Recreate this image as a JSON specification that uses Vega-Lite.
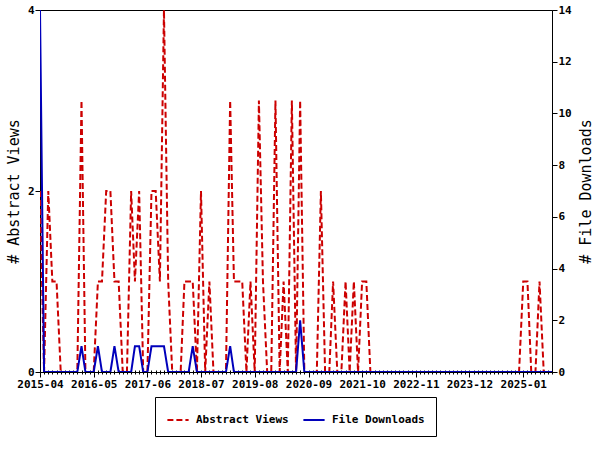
{
  "$schema": "https://vega.github.io/schema/vega-lite/v6.json",
  "width": 512,
  "height": 362,
  "autosize": {"type": "none"},
  "padding": {"left": 40, "top": 10, "right": 48, "bottom": 78},
  "background": "white",
  "data": {"values": [
    {"month": "2015-04", "views": 2, "downloads": 14},
    {"month": "2015-05", "views": 0, "downloads": 0},
    {"month": "2015-06", "views": 2, "downloads": 0},
    {"month": "2015-07", "views": 1, "downloads": 0},
    {"month": "2015-08", "views": 1, "downloads": 0},
    {"month": "2015-09", "views": 0, "downloads": 0},
    {"month": "2015-10", "views": 0, "downloads": 0},
    {"month": "2015-11", "views": 0, "downloads": 0},
    {"month": "2015-12", "views": 0, "downloads": 0},
    {"month": "2016-01", "views": 0, "downloads": 0},
    {"month": "2016-02", "views": 3, "downloads": 1},
    {"month": "2016-03", "views": 0, "downloads": 0},
    {"month": "2016-04", "views": 0, "downloads": 0},
    {"month": "2016-05", "views": 0, "downloads": 0},
    {"month": "2016-06", "views": 1, "downloads": 1},
    {"month": "2016-07", "views": 1, "downloads": 0},
    {"month": "2016-08", "views": 2, "downloads": 0},
    {"month": "2016-09", "views": 2, "downloads": 0},
    {"month": "2016-10", "views": 1, "downloads": 1},
    {"month": "2016-11", "views": 1, "downloads": 0},
    {"month": "2016-12", "views": 0, "downloads": 0},
    {"month": "2017-01", "views": 0, "downloads": 0},
    {"month": "2017-02", "views": 2, "downloads": 0},
    {"month": "2017-03", "views": 1, "downloads": 1},
    {"month": "2017-04", "views": 2, "downloads": 1},
    {"month": "2017-05", "views": 0, "downloads": 0},
    {"month": "2017-06", "views": 0, "downloads": 0},
    {"month": "2017-07", "views": 2, "downloads": 1},
    {"month": "2017-08", "views": 2, "downloads": 1},
    {"month": "2017-09", "views": 1, "downloads": 1},
    {"month": "2017-10", "views": 4, "downloads": 1},
    {"month": "2017-11", "views": 1, "downloads": 0},
    {"month": "2017-12", "views": 0, "downloads": 0},
    {"month": "2018-01", "views": 0, "downloads": 0},
    {"month": "2018-02", "views": 0, "downloads": 0},
    {"month": "2018-03", "views": 1, "downloads": 0},
    {"month": "2018-04", "views": 1, "downloads": 0},
    {"month": "2018-05", "views": 1, "downloads": 1},
    {"month": "2018-06", "views": 0, "downloads": 0},
    {"month": "2018-07", "views": 2, "downloads": 0},
    {"month": "2018-08", "views": 0, "downloads": 0},
    {"month": "2018-09", "views": 1, "downloads": 0},
    {"month": "2018-10", "views": 0, "downloads": 0},
    {"month": "2018-11", "views": 0, "downloads": 0},
    {"month": "2018-12", "views": 0, "downloads": 0},
    {"month": "2019-01", "views": 0, "downloads": 0},
    {"month": "2019-02", "views": 3, "downloads": 1},
    {"month": "2019-03", "views": 1, "downloads": 0},
    {"month": "2019-04", "views": 1, "downloads": 0},
    {"month": "2019-05", "views": 1, "downloads": 0},
    {"month": "2019-06", "views": 0, "downloads": 0},
    {"month": "2019-07", "views": 1, "downloads": 0},
    {"month": "2019-08", "views": 0, "downloads": 0},
    {"month": "2019-09", "views": 3, "downloads": 0},
    {"month": "2019-10", "views": 1, "downloads": 0},
    {"month": "2019-11", "views": 0, "downloads": 0},
    {"month": "2019-12", "views": 0, "downloads": 0},
    {"month": "2020-01", "views": 3, "downloads": 0},
    {"month": "2020-02", "views": 0, "downloads": 0},
    {"month": "2020-03", "views": 1, "downloads": 0},
    {"month": "2020-04", "views": 0, "downloads": 0},
    {"month": "2020-05", "views": 3, "downloads": 0},
    {"month": "2020-06", "views": 0, "downloads": 0},
    {"month": "2020-07", "views": 3, "downloads": 2},
    {"month": "2020-08", "views": 0, "downloads": 0},
    {"month": "2020-09", "views": 0, "downloads": 0},
    {"month": "2020-10", "views": 0, "downloads": 0},
    {"month": "2020-11", "views": 0, "downloads": 0},
    {"month": "2020-12", "views": 2, "downloads": 0},
    {"month": "2021-01", "views": 0, "downloads": 0},
    {"month": "2021-02", "views": 0, "downloads": 0},
    {"month": "2021-03", "views": 1, "downloads": 0},
    {"month": "2021-04", "views": 0, "downloads": 0},
    {"month": "2021-05", "views": 0, "downloads": 0},
    {"month": "2021-06", "views": 1, "downloads": 0},
    {"month": "2021-07", "views": 0, "downloads": 0},
    {"month": "2021-08", "views": 1, "downloads": 0},
    {"month": "2021-09", "views": 0, "downloads": 0},
    {"month": "2021-10", "views": 1, "downloads": 0},
    {"month": "2021-11", "views": 1, "downloads": 0},
    {"month": "2021-12", "views": 0, "downloads": 0},
    {"month": "2022-01", "views": 0, "downloads": 0},
    {"month": "2022-02", "views": 0, "downloads": 0},
    {"month": "2022-03", "views": 0, "downloads": 0},
    {"month": "2022-04", "views": 0, "downloads": 0},
    {"month": "2022-05", "views": 0, "downloads": 0},
    {"month": "2022-06", "views": 0, "downloads": 0},
    {"month": "2022-07", "views": 0, "downloads": 0},
    {"month": "2022-08", "views": 0, "downloads": 0},
    {"month": "2022-09", "views": 0, "downloads": 0},
    {"month": "2022-10", "views": 0, "downloads": 0},
    {"month": "2022-11", "views": 0, "downloads": 0},
    {"month": "2022-12", "views": 0, "downloads": 0},
    {"month": "2023-01", "views": 0, "downloads": 0},
    {"month": "2023-02", "views": 0, "downloads": 0},
    {"month": "2023-03", "views": 0, "downloads": 0},
    {"month": "2023-04", "views": 0, "downloads": 0},
    {"month": "2023-05", "views": 0, "downloads": 0},
    {"month": "2023-06", "views": 0, "downloads": 0},
    {"month": "2023-07", "views": 0, "downloads": 0},
    {"month": "2023-08", "views": 0, "downloads": 0},
    {"month": "2023-09", "views": 0, "downloads": 0},
    {"month": "2023-10", "views": 0, "downloads": 0},
    {"month": "2023-11", "views": 0, "downloads": 0},
    {"month": "2023-12", "views": 0, "downloads": 0},
    {"month": "2024-01", "views": 0, "downloads": 0},
    {"month": "2024-02", "views": 0, "downloads": 0},
    {"month": "2024-03", "views": 0, "downloads": 0},
    {"month": "2024-04", "views": 0, "downloads": 0},
    {"month": "2024-05", "views": 0, "downloads": 0},
    {"month": "2024-06", "views": 0, "downloads": 0},
    {"month": "2024-07", "views": 0, "downloads": 0},
    {"month": "2024-08", "views": 0, "downloads": 0},
    {"month": "2024-09", "views": 0, "downloads": 0},
    {"month": "2024-10", "views": 0, "downloads": 0},
    {"month": "2024-11", "views": 0, "downloads": 0},
    {"month": "2024-12", "views": 0, "downloads": 0},
    {"month": "2025-01", "views": 1, "downloads": 0},
    {"month": "2025-02", "views": 1, "downloads": 0},
    {"month": "2025-03", "views": 0, "downloads": 0},
    {"month": "2025-04", "views": 0, "downloads": 0},
    {"month": "2025-05", "views": 1, "downloads": 0},
    {"month": "2025-06", "views": 0, "downloads": 0},
    {"month": "2025-07", "views": 0, "downloads": 0},
    {"month": "2025-08", "views": 0, "downloads": 0}
  ]},
  "layer": [
    {
      "mark": {"type": "line", "strokeWidth": 2, "clip": true},
      "encoding": {
        "x": {
          "field": "month", "type": "temporal",
          "scale": {"type": "utc", "nice": false},
          "axis": {
            "title": null, "orient": "bottom", "format": "%Y-%m", "tickSize": 5, "labelPadding": 1,
            "labelOverlap": false, "labelFlush": false,
            "values": [
              {"year": 2015, "month": 4, "date": 1, "utc": true},
              {"year": 2016, "month": 5, "date": 1, "utc": true},
              {"year": 2017, "month": 6, "date": 1, "utc": true},
              {"year": 2018, "month": 7, "date": 1, "utc": true},
              {"year": 2019, "month": 8, "date": 1, "utc": true},
              {"year": 2020, "month": 9, "date": 1, "utc": true},
              {"year": 2021, "month": 10, "date": 1, "utc": true},
              {"year": 2022, "month": 11, "date": 1, "utc": true},
              {"year": 2023, "month": 12, "date": 1, "utc": true},
              {"year": 2025, "month": 1, "date": 1, "utc": true}
            ]
          }
        },
        "y": {
          "field": "views", "type": "quantitative",
          "scale": {"domain": [0, 4], "nice": false},
          "axis": {"title": "# Abstract Views", "orient": "left", "values": [0, 2, 4], "tickSize": 5, "labelPadding": 1, "titlePadding": 6}
        },
        "color": {
          "datum": "Abstract Views",
          "scale": {"domain": ["Abstract Views", "File Downloads"], "range": ["#cc0000", "#0000bb"]},
          "legend": {"title": null}
        },
        "strokeDash": {
          "datum": "Abstract Views",
          "scale": {"domain": ["Abstract Views", "File Downloads"], "range": [[6, 3], [1, 0]]},
          "legend": {"title": null}
        }
      }
    },
    {
      "mark": {"type": "line", "strokeWidth": 2, "clip": true},
      "encoding": {
        "x": {
          "field": "month", "type": "temporal",
          "axis": {"title": null, "orient": "bottom", "offset": -2, "labels": false, "domain": false, "tickSize": 4, "tickCount": {"interval": "month", "step": 1}}
        },
        "y": {
          "field": "downloads", "type": "quantitative",
          "scale": {"domain": [0, 14], "nice": false},
          "axis": {"title": "# File Downloads", "orient": "right", "titleAngle": 270, "values": [0, 2, 4, 6, 8, 10, 12, 14], "tickSize": 5, "labelPadding": 1, "titlePadding": 22}
        },
        "color": {"datum": "File Downloads"},
        "strokeDash": {"datum": "File Downloads"}
      }
    }
  ],
  "resolve": {"scale": {"y": "independent"}, "axis": {"x": "independent"}},
  "config": {
    "view": {"stroke": "black", "strokeWidth": 1},
    "axis": {
      "grid": false, "domainColor": "black", "tickColor": "black", "labelColor": "black", "titleColor": "black",
      "labelFont": "DejaVu Sans Mono", "labelFontWeight": "bold", "labelFontSize": 11,
      "titleFont": "DejaVu Sans Mono", "titleFontSize": 15, "titleFontWeight": "normal"
    },
    "legend": {
      "orient": "none", "legendX": 115, "legendY": 387, "direction": "horizontal",
      "strokeColor": "black", "fillColor": "white", "padding": 11,
      "symbolType": "stroke", "symbolSize": 450, "symbolStrokeWidth": 2,
      "labelFont": "DejaVu Sans Mono", "labelFontWeight": "bold", "labelFontSize": 11, "labelColor": "black",
      "labelOffset": 6, "columnPadding": 10
    }
  }
}
